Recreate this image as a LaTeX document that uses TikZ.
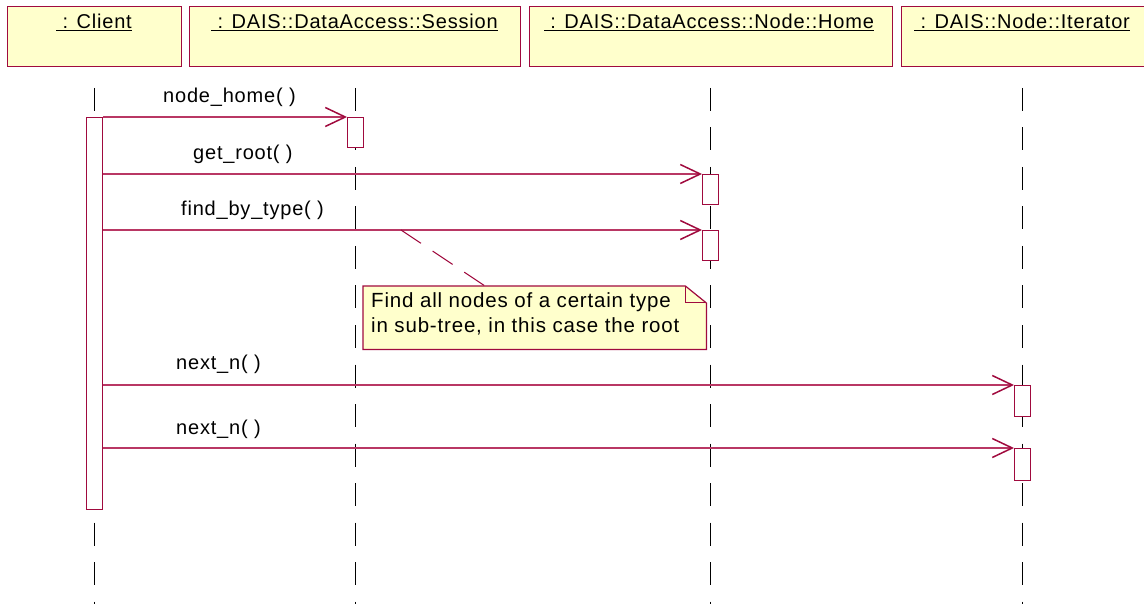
\documentclass[tikz,border=0pt]{standalone}
\usepackage{fontspec}
\setmainfont{Liberation Sans}[LetterSpace=4]
\usetikzlibrary{arrows.meta,calc}
\definecolor{umlred}{RGB}{160,10,62}
\definecolor{umlmsg}{RGB}{185,55,100}
\definecolor{umlfill}{RGB}{255,255,204}

\begin{document}
\begin{tikzpicture}[x=1pt,y=-1pt,
  font=\fontsize{20}{25}\selectfont,
  objbox/.style={draw=umlred, fill=umlfill, line width=1.2pt, inner sep=0pt, anchor=north west},
  actbar/.style={draw=umlred, fill=white, line width=1.1pt, inner sep=0pt, anchor=north west, minimum width=16pt, minimum height=30pt},
  lifeline/.style={draw=black, line width=0.9pt, dash pattern=on 23pt off 16.5pt},
  msg/.style={draw=umlmsg, line width=1.3pt, -{Straight Barb[length=20pt,width=19pt,line width=1.5pt,color=umlred]}},
  msglabel/.style={anchor=base west, inner sep=0pt},
  notetext/.style={anchor=base west, inner sep=0pt, font=\fontsize{20.5}{25}\selectfont},
  hdrlabel/.style={anchor=base, inner sep=0pt},
  notelink/.style={draw=umlred, line width=1pt, dash pattern=on 24pt off 14pt}
]
\useasboundingbox (0,0) rectangle (1144,604);
\clip (0,0) rectangle (1144,604);

% object headers
\node[objbox, minimum width=174pt, minimum height=60pt] (hClient) at (7,6) {};
\node[objbox, minimum width=331pt, minimum height=60pt] (hSession) at (189,6) {};
\node[objbox, minimum width=363pt, minimum height=60pt] (hHome) at (529,6) {};
\node[objbox, minimum width=250pt, minimum height=60pt] (hIter) at (901,6) {};
\node[hdrlabel] (tClient) at (94,29) {\underline{~: Client}};
\node[hdrlabel] (tSession) at (354.5,29) {\underline{~: DAIS::DataAccess::Session}};
\node[hdrlabel] (tHome) at (709,29) {\underline{~: DAIS::DataAccess::Node::Home}};
\node[hdrlabel] (tIter) at (1022,29) {\underline{~: DAIS::Node::Iterator}};

% lifelines
\coordinate (lC0) at (94,88);   \coordinate (lC1) at (94,604);
\coordinate (lS0) at (355,88);  \coordinate (lS1) at (355,604);
\coordinate (lH0) at (710,88);  \coordinate (lH1) at (710,604);
\coordinate (lI0) at (1022,88); \coordinate (lI1) at (1022,604);
\draw[lifeline] (lC0) -- (lC1);
\draw[lifeline] (lS0) -- (lS1);
\draw[lifeline] (lH0) -- (lH1);
\draw[lifeline] (lI0) -- (lI1);

% activation bars
\node[actbar, minimum height=392pt] (aC) at (86,117) {};
\node[actbar] (aS) at (347,117) {};
\node[actbar] (aH1) at (702,174) {};
\node[actbar] (aH2) at (702,230) {};
\node[actbar, minimum height=31pt] (aI1) at (1014,385) {};
\node[actbar, minimum height=32pt] (aI2) at (1014,448) {};

% messages
\draw[msg] (aC.east |- aS.north west) -- (aS.north west);
\draw[msg] (aC.east |- aH1.north west) -- (aH1.north west);
\draw[msg] (aC.east |- aH2.north west) -- (aH2.north west);
\draw[msg] (aC.east |- aI1.north west) -- (aI1.north west);
\draw[msg] (aC.east |- aI2.north west) -- (aI2.north west);

\node[msglabel] (m1) at (163,103) {node\_home(~)};
\node[msglabel] (m2) at (193,160) {get\_root(~)};
\node[msglabel] (m3) at (181,216) {find\_by\_type(~)};
\node[msglabel] (m4) at (176,369) {next\_n(~)};
\node[msglabel] (m5) at (176,434) {next\_n(~)};

% note with folded corner
\node[inner sep=0pt, anchor=north west, minimum width=343pt, minimum height=63pt] (note) at (363,286) {};
\draw[draw=umlred, fill=umlfill, line width=1.2pt]
  (note.north west) -- ($(note.north east)+(-21,0)$) -- ($(note.north east)+(0,17)$)
  -- (note.south east) -- (note.south west) -- cycle;
\draw[draw=umlred, line width=1pt]
  ($(note.north east)+(-21,0)$) -- ($(note.north east)+(-21,17)$) -- ($(note.north east)+(0,17)$);
\node[notetext] (n1) at (371,308) {Find all nodes of a certain type};
\node[notetext] (n2) at (371,333) {in sub-tree, in this case the root};

\coordinate (linkA) at (401,230);
\coordinate (linkB) at ($(note.north west)+(122,0)$);
\draw[notelink] (linkA) -- (linkB);
\end{tikzpicture}
\end{document}
